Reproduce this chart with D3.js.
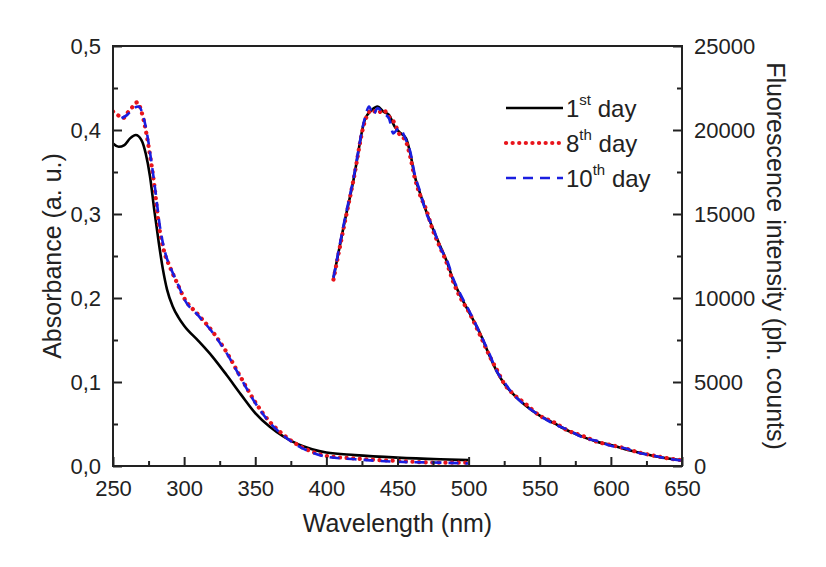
<!DOCTYPE html>
<html><head><meta charset="utf-8">
<script src="https://cdn.jsdelivr.net/npm/d3@7"></script>
<style>body{margin:0;background:#fff}</style></head>
<body><svg id="chart" width="826" height="567"></svg>
<script>
const absDay1 = [[250,0.384],[254,0.38],[258,0.382],[262,0.39],[266,0.394],[270,0.388],[273,0.372],[276,0.345],[279,0.305],[282,0.268],[285,0.235],[288,0.21],[292,0.19],[296,0.177],[300,0.167],[310,0.149],[320,0.13],[330,0.108],[340,0.085],[350,0.063],[360,0.047],[370,0.035],[380,0.026],[390,0.02],[400,0.016],[420,0.013],[450,0.01],[480,0.008],[500,0.007]];
const absDay8 = [[250,0.422],[254,0.417],[257,0.414],[260,0.42],[264,0.428],[267,0.433],[270,0.422],[273,0.4],[276,0.37],[279,0.335],[282,0.29],[286,0.255],[290,0.237],[295,0.218],[300,0.2],[310,0.18],[320,0.16],[330,0.135],[340,0.105],[350,0.076],[360,0.053],[370,0.037],[380,0.025],[390,0.017],[400,0.012],[420,0.009],[450,0.006],[480,0.004],[500,0.004]];
const absDay10 = [[256,0.414],[260,0.418],[264,0.425],[268,0.428],[271,0.418],[274,0.395],[277,0.362],[280,0.325],[283,0.285],[287,0.252],[291,0.234],[296,0.215],[300,0.199],[310,0.179],[320,0.159],[330,0.134],[340,0.104],[350,0.075],[360,0.052],[370,0.036],[380,0.024],[390,0.016],[400,0.011],[420,0.008],[450,0.005],[480,0.004],[500,0.003]];

const fl1 = [[405,11200],[412,14200],[419,17000],[427,20600],[432,21200],[436,21400],[440,21100],[444,20900],[448,20200],[451,19900],[456,19500],[459,18600],[462,17300],[466,16200],[470,15200],[475,14100],[480,13100],[485,12100],[489,11100],[495,10000],[500,9200],[508,7900],[515,6500],[520,5600],[525,4900],[530,4400],[540,3600],[550,3000],[560,2550],[570,2100],[580,1750],[590,1450],[600,1250],[610,1000],[620,800],[630,600],[640,450],[650,350]];
const fl8 = [[405,11100],[412,14100],[419,17000],[427,20500],[432,21200],[436,21000],[440,21200],[444,20800],[448,20400],[451,19800],[456,19300],[459,18400],[462,17200],[466,16100],[470,15300],[475,14000],[480,13000],[485,12000],[489,11000],[495,9900],[500,9200],[508,7800],[515,6500],[520,5700],[525,4900],[530,4400],[540,3700],[550,3000],[560,2600],[570,2100],[580,1800],[590,1450],[600,1250],[610,1050],[620,800],[630,620],[640,460],[650,340]];
const fl10 = [[405,11200],[412,14300],[419,17100],[427,20700],[430,21400],[433,20900],[436,21300],[440,21000],[444,20700],[447,19800],[451,20100],[456,19400],[459,18700],[462,17400],[466,16300],[470,15100],[475,14200],[480,13000],[485,12200],[489,11200],[495,10100],[500,9300],[508,7900],[515,6600],[520,5600],[525,5000],[530,4400],[540,3600],[550,3000],[560,2500],[570,2150],[580,1700],[590,1500],[600,1200],[610,1050],[620,780],[630,620],[640,430],[650,330]];

const xTicks = [250,300,350,400,450,500,550,600,650];
const yLeftTicks = [0,0.1,0.2,0.3,0.4,0.5];
const yRightTicks = [0,5000,10000,15000,20000,25000];

const series = [
  {abs: absDay1, fl: fl1, color: '#000', dash: null, w: 2.6, cap: 'butt', sup: 'st', num: '1'},
  {abs: absDay8, fl: fl8, color: '#e8141b', dash: '0.1,6.5', w: 4.2, cap: 'round', sup: 'th', num: '8'},
  {abs: absDay10, fl: fl10, color: '#1a1ee0', dash: '10,7', w: 2.6, cap: 'butt', sup: 'th', num: '10'}
];

const L = 113, R = 682, T = 46, B = 466;
const svg = d3.select('#chart');
const font = 'Liberation Sans, Arial, sans-serif';
const x = d3.scaleLinear().domain([250, 650]).range([L, R]);
const yA = d3.scaleLinear().domain([0, 0.5]).range([B, T]);
const yF = d3.scaleLinear().domain([0, 25000]).range([B, T]);
const fmt = d => d3.format('.1f')(d).replace('.', ',');

const clip = svg.append('defs').append('clipPath').attr('id', 'c');
clip.append('rect').attr('x', L).attr('y', T).attr('width', R - L).attr('height', B - T);

const plot = svg.append('g').attr('clip-path', 'url(#c)');
series.forEach(s => {
  [[s.abs, yA], [s.fl, yF]].forEach(([d, y]) => {
    plot.append('path').datum(d)
      .attr('fill', 'none').attr('stroke', s.color).attr('stroke-width', s.w)
      .attr('stroke-linecap', s.cap).attr('stroke-dasharray', s.dash)
      .attr('d', d3.line().curve(d3.curveMonotoneX).x(p => x(p[0])).y(p => y(p[1])));
  });
});

// frame
svg.append('rect').attr('x', L).attr('y', T).attr('width', R - L).attr('height', B - T)
  .attr('fill', 'none').attr('stroke', '#222').attr('stroke-width', 2);

// axes
const styleAxis = g => {
  g.select('.domain').remove();
  g.selectAll('.tick line').attr('stroke', '#222').attr('stroke-width', 2);
  g.selectAll('.tick text').attr('font-family', font).attr('font-size', 22).attr('fill', '#222');
};
const minor = (ax, ticks) => ax.tickValues(ticks).tickSize(-5).tickFormat('');

const xMin = d3.range(275, 650, 50);
svg.append('g').attr('transform', `translate(0,${B})`)
  .call(d3.axisBottom(x).tickValues(xTicks).tickSizeInner(-9).tickPadding(14)).call(styleAxis);
svg.append('g').attr('transform', `translate(0,${B})`)
  .call(minor(d3.axisBottom(x), xMin)).call(styleAxis);

svg.append('g').attr('transform', `translate(${L},0)`)
  .call(d3.axisLeft(yA).tickValues(yLeftTicks).tickFormat(fmt).tickSizeInner(-9).tickPadding(12)).call(styleAxis);
svg.append('g').attr('transform', `translate(${L},0)`)
  .call(minor(d3.axisLeft(yA), [0.05,0.15,0.25,0.35,0.45])).call(styleAxis);

svg.append('g').attr('transform', `translate(${R},0)`)
  .call(d3.axisRight(yF).tickValues(yRightTicks).tickFormat(d3.format('d')).tickSizeInner(-9).tickPadding(12)).call(styleAxis);
svg.append('g').attr('transform', `translate(${R},0)`)
  .call(minor(d3.axisRight(yF), [2500,7500,12500,17500,22500])).call(styleAxis);

// titles
svg.append('text').attr('x', (L + R) / 2).attr('y', 532).attr('text-anchor', 'middle')
  .attr('font-family', font).attr('font-size', 25).attr('fill', '#222').text('Wavelength (nm)');
svg.append('text').attr('transform', `translate(52,${(T + B) / 2}) rotate(-90)`).attr('text-anchor', 'middle')
  .attr('font-family', font).attr('font-size', 25).attr('fill', '#222').attr('dy', '0.35em').text('Absorbance (a. u.)');
svg.append('text').attr('transform', `translate(776,${(T + B) / 2}) rotate(90)`).attr('text-anchor', 'middle')
  .attr('font-family', font).attr('font-size', 25).attr('fill', '#222').attr('dy', '0.35em').text('Fluorescence intensity (ph. counts)');

// legend
const lg = svg.append('g');
series.forEach((s, i) => {
  const yy = 108 + i * 35;
  lg.append('line').attr('x1', 506).attr('x2', 563).attr('y1', yy).attr('y2', yy)
    .attr('stroke', s.color).attr('stroke-width', s.w).attr('stroke-linecap', s.cap).attr('stroke-dasharray', s.dash);
  const t = lg.append('text').attr('x', 566).attr('y', yy + 9).attr('font-family', font)
    .attr('font-size', 24).attr('fill', '#222');
  t.append('tspan').text(s.num);
  t.append('tspan').attr('font-size', 15).attr('dy', -12).text(s.sup);
  t.append('tspan').attr('dy', 12).text('\u00a0day');
});
</script></body></html>
